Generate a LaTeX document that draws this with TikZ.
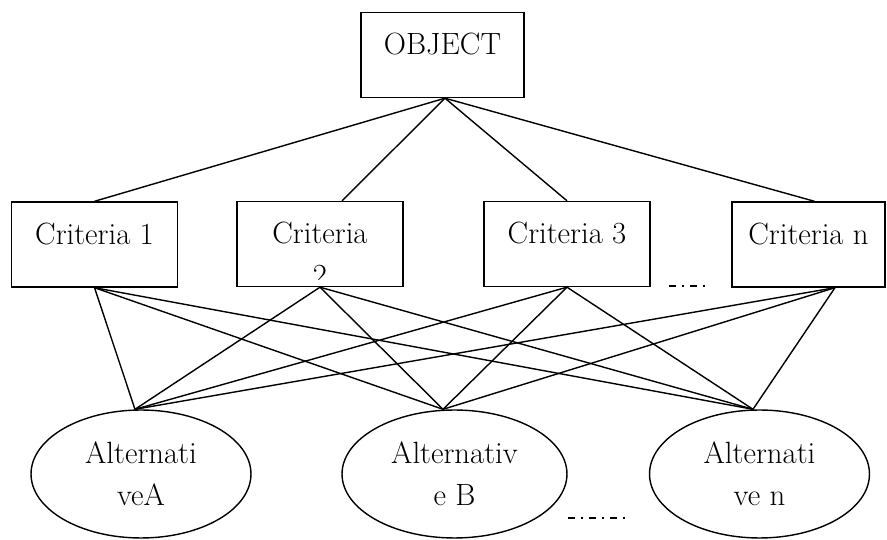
\documentclass[tikz,border=0pt]{standalone}
\usetikzlibrary{shapes.geometric}
\begin{document}
\begin{tikzpicture}[x=0.02cm, y=-0.02cm,
  every node/.style={font=\fontsize{17.5}{23.8}\selectfont},
  critbox/.style={rectangle, draw, line width=0.8pt, inner sep=0pt, text height=0.85cm, text depth=0.85cm, minimum width=3.32cm},
  altbox/.style={ellipse, draw, line width=0.8pt, inner sep=0pt, align=center, minimum width=4.4cm, minimum height=2.56cm},
  link/.style={line width=0.8pt},
  gapmark/.style={line width=0.8pt, dash pattern=on 0.14cm off 0.12cm on 0.04cm off 0.12cm}]
  \useasboundingbox (0, 0) rectangle (887, 540);
  % Nodes
  \node (obj) [critbox, minimum width=3.26cm] at (442.5, 55) {OBJECT};
  \node (c1) [critbox] at (94.5, 244.5) {Criteria 1};
  \node (c2) [critbox] at (320, 244) {Criteria};
  \node (c3) [critbox] at (567, 244) {Criteria 3};
  \node (cn) [critbox, minimum width=3.06cm] at (808.5, 244.5) {Criteria n};
  \begin{scope}
    \clip (c2.north west) rectangle ([yshift=0.15cm]c2.south east);
    \node (c2num) [anchor=base] at ([yshift=-0.84cm]c2.center) {2};
  \end{scope}
  \node (alta) [altbox] at (141, 474) {Alternati\\veA};
  \node (altb) [altbox, minimum width=4.5cm] at (454.5, 474) {Alternativ\\e B};
  \node (altn) [altbox] at (759.5, 474) {Alternati\\ve n};
  % Attach points
  \coordinate (objbot) at ([xshift=0.05cm]obj.south);
  \coordinate (c2top) at ([xshift=0.44cm]c2.north);
  \coordinate (cntop) at ([xshift=0.12cm]cn.north);
  \coordinate (cnbot) at ([xshift=0.53cm]cn.south);
  \coordinate (atop) at ([xshift=-0.12cm]alta.north);
  \coordinate (btop) at ([xshift=-0.23cm]altb.north);
  \coordinate (ntop) at ([xshift=-0.13cm]altn.north);
  \coordinate (gapa) at (669, 286);
  \coordinate (gapb) at (706, 286);
  \coordinate (gapc) at (568, 518);
  \coordinate (gapd) at (630, 518);
  % Lines
  \draw[link] (objbot) -- (c1.north);
  \draw[link] (objbot) -- (c2top);
  \draw[link] (objbot) -- (c3.north);
  \draw[link] (objbot) -- (cntop);
  \draw[link] (c1.south) -- (atop);
  \draw[link] (c1.south) -- (btop);
  \draw[link] (c1.south) -- (ntop);
  \draw[link] (c2.south) -- (atop);
  \draw[link] (c2.south) -- (btop);
  \draw[link] (c2.south) -- (ntop);
  \draw[link] (c3.south) -- (atop);
  \draw[link] (c3.south) -- (btop);
  \draw[link] (c3.south) -- (ntop);
  \draw[link] (cnbot) -- (atop);
  \draw[link] (cnbot) -- (btop);
  \draw[link] (cnbot) -- (ntop);
  \draw[gapmark] (gapa) -- (gapb);
  \draw[gapmark] (gapc) -- (gapd);
\end{tikzpicture}
\end{document}
